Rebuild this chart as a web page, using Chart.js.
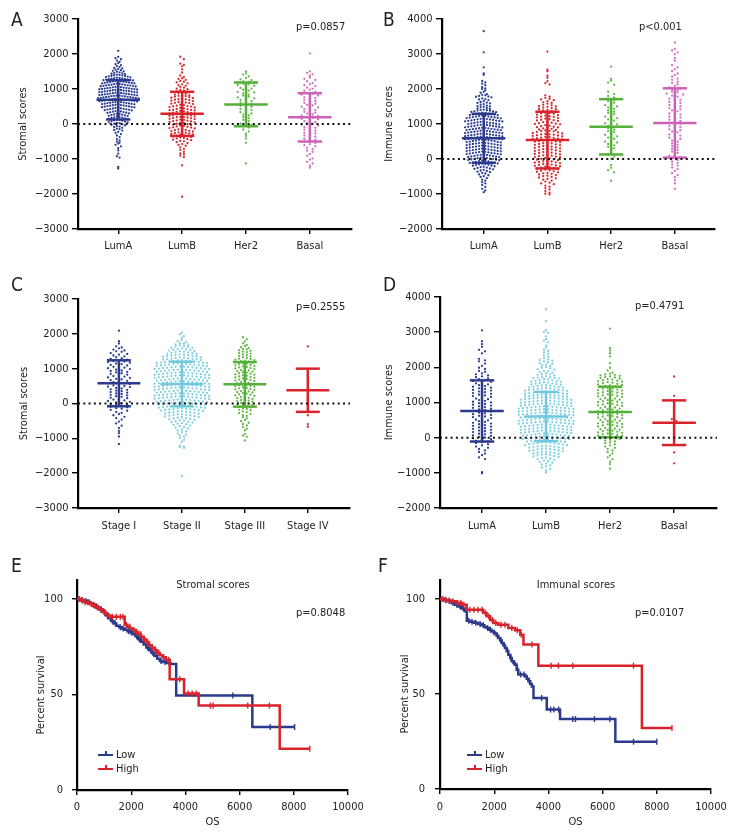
<!DOCTYPE html>
<html><head><meta charset="utf-8">
<script src="https://cdn.jsdelivr.net/npm/chart.js@4.4.1/dist/chart.umd.min.js"></script>
<style>
html,body{margin:0;padding:0;background:#fff;}
#fig{position:relative;width:744px;height:840px;overflow:hidden;color:#222;
 font-family:'Liberation Sans Narrow','DejaVu Sans Condensed','Roboto Condensed','Arial Narrow','Liberation Sans',sans-serif;}
.panel{position:absolute;width:372px;height:280px;}
.t{position:absolute;font-size:11px;line-height:1;white-space:nowrap;}
.rot{position:absolute;width:100px;height:12px;font-size:11px;line-height:12px;text-align:center;white-space:nowrap;transform:rotate(-90deg);transform-origin:50px 6px;}
.letter{position:absolute;font-size:19px;line-height:1;}
.leg{position:absolute;width:15px;height:2px;}
.tick{position:absolute;width:1.5px;height:5px;left:7px;top:-3px;}
</style></head><body>
<div id="fig">
 <div class="panel" style="left:0;top:0"><canvas id="cA"></canvas></div>
 <div class="panel" style="left:372px;top:0"><canvas id="cB"></canvas></div>
 <div class="panel" style="left:0;top:280px"><canvas id="cC"></canvas></div>
 <div class="panel" style="left:372px;top:280px"><canvas id="cD"></canvas></div>
 <div class="panel" style="left:0;top:560px"><canvas id="cE"></canvas></div>
 <div class="panel" style="left:372px;top:560px"><canvas id="cF"></canvas></div>

 <div class="letter" style="left:11px;top:10px">A</div>
 <div class="letter" style="left:383px;top:10px">B</div>
 <div class="letter" style="left:11px;top:275px">C</div>
 <div class="letter" style="left:383px;top:275px">D</div>
 <div class="letter" style="left:11px;top:556px">E</div>
 <div class="letter" style="left:378px;top:556px">F</div>

 <div class="t" style="left:296px;top:21px">p=0.0857</div>
 <div class="t" style="left:639px;top:21px">p&lt;0.001</div>
 <div class="t" style="left:296px;top:301px">p=0.2555</div>
 <div class="t" style="left:635px;top:300px">p=0.4791</div>
 <div class="t" style="left:296px;top:607px">p=0.8048</div>
 <div class="t" style="left:635px;top:607px">p=0.0107</div>
 <div class="t" style="left:213px;top:579px;transform:translateX(-50%)">Stromal scores</div>
 <div class="t" style="left:576px;top:579px;transform:translateX(-50%)">Immunal scores</div>
 <div class="rot" style="left:-9px;top:689px">Percent survival</div>
 <div class="rot" style="left:355px;top:688px">Percent survival</div>

 <div class="leg" style="left:98px;top:754px;background:#2b3a8c"><div class="tick" style="background:#2b3a8c"></div></div>
 <div class="t" style="left:116px;top:749px">Low</div>
 <div class="leg" style="left:98px;top:768px;background:#d9232a"><div class="tick" style="background:#d9232a"></div></div>
 <div class="t" style="left:116px;top:763px">High</div>
 <div class="leg" style="left:467px;top:754px;background:#2b3a8c"><div class="tick" style="background:#2b3a8c"></div></div>
 <div class="t" style="left:485px;top:749px">Low</div>
 <div class="leg" style="left:467px;top:768px;background:#d9232a"><div class="tick" style="background:#d9232a"></div></div>
 <div class="t" style="left:485px;top:763px">High</div>
</div>
<script>
// ---------------- categories ----------------
const subtypes = ['LumA','LumB','Her2','Basal'];
const stages = ['Stage I','Stage II','Stage III','Stage IV'];

// ---------------- Panel A: stromal scores by subtype ----------------
const stromalLumA = [2090,1920,1880,1850,1812,1776,1743,1708,1684,1652,1627,1603,1591,1568,1553,1537,1519,1502,1494,1477,1463,1448,1436,1424,1411,1403,
1396,1387,1379,1373,1361,1354,1344,1333,1324,1316,1307,1301,
1297,1291,1282,1276,1268,1259,1253,1244,1238,1229,1221,1216,1207,1202,
1198,1189,1185,1176,1172,1163,1158,1152,1144,1139,1131,1124,1118,1113,1105,1101,
1097,1092,1084,1079,1072,1068,1059,1053,1047,1042,1035,1029,1023,1018,1011,1006,1002,
998,993,986,981,975,971,964,957,953,948,942,937,931,924,920,913,909,904,
899,893,886,882,875,869,864,858,853,847,842,836,831,825,819,814,808,803,
798,794,787,781,776,772,765,759,754,749,743,737,732,726,721,715,710,704,
697,692,684,679,672,667,660,655,648,644,636,631,624,620,612,607,601,
597,589,582,577,569,563,555,550,542,537,529,524,516,511,503,
496,488,479,473,464,458,449,443,434,427,419,413,404,
395,387,377,369,358,351,340,333,322,316,303,
294,286,274,267,254,247,233,226,214,206,
192,184,171,162,149,140,127,118,105,
94,79,72,56,48,31,24,8,
-9,-23,-41,-55,-73,-86,-108,-131,-149,-172,-188,
-224,-251,-288,-328,-374,-432,-471,-505,-534,-559,-596,-638,-692,-755,-848,-921,-958,-1229,-1271];
const stromalLumB = [1922,1851,1724,1688,1647,1563,1472,1386,1342,1307,1288,1263,1232,1207,1188,1162,1134,1109,1091,1063,1038,1012,
996,973,951,928,906,893,876,862,841,827,813,804,797,782,766,753,738,722,709,701,
696,684,668,656,640,628,613,604,597,581,570,552,542,525,513,503,
498,485,472,458,444,430,419,405,401,396,387,371,362,348,339,325,316,305,301,
298,288,275,265,252,242,229,219,206,202,196,186,173,163,149,140,126,117,103,
97,83,72,58,47,33,22,7,
-5,-20,-30,-45,-56,-70,-81,-95,-102,-116,-127,-142,-153,-168,-179,-194,
-201,-214,-224,-237,-247,-260,-270,-284,-294,-305,-317,-332,-344,-359,-371,-387,-398,
-411,-427,-447,-463,-483,-496,-519,-544,-573,-597,-622,-667,-713,-739,-794,-843,-864,-906,-947,-1182,-2078];
const stromalHer2 = [1502,1447,1412,1358,1314,1276,1253,1218,1203,1187,1172,1148,1133,1108,1092,1061,1028,1012,979,952,918,903,871,838,812,783,757,732,698,683,652,618,603,577,552,518,493,457,433,398,372,338,302,268,243,197,163,118,82,38,12,-23,-58,-103,-157,-213,-278,-342,-417,-538,-1128];
const stromalBasal = [2018,1503,1462,1418,1381,1328,1292,1258,1223,1168,1142,1107,1083,1038,1012,978,953,918,892,868,843,817,792,758,742,708,683,657,632,598,582,548,532,497,473,448,422,398,372,348,323,297,272,248,222,198,182,147,133,108,82,57,32,8,-18,-42,-57,-92,-108,-143,-158,-192,-218,-253,-268,-303,-328,-362,-388,-422,-448,-483,-508,-542,-568,-603,-638,-682,-718,-762,-798,-862,-908,-983,-1018,-1083,-1128,-1192,-1248];
const stromalSubtypeMean = [690, 290, 560, 190];
const stromalSubtypeSD = [560, 630, 625, 690];

// ---------------- Panel B: immune scores by subtype ----------------
const immuneLumA = [3652,3048,2618,2443,2407,2232,2188,2153,2108,2052,2017,1998,1963,1918,1893,
1852,1834,1818,1803,1788,1779,1762,1731,1713,1702,1683,1652,1628,1613,1601,
1592,1568,1553,1527,1512,1503,1494,1482,1458,1443,1428,1412,1401,
1396,1384,1377,1363,1357,1344,1336,1323,1317,1304,
1298,1289,1283,1274,1268,1257,1251,1242,1233,1227,1217,1211,1202,
1198,1189,1184,1175,1170,1161,1156,1147,1142,1133,1128,1119,1114,1105,
1099,1091,1086,1077,1072,1063,1058,1049,1044,1035,1030,1021,1016,1007,
998,990,985,976,971,962,957,948,943,934,929,920,915,906,
900,892,888,879,875,866,862,853,849,840,836,827,823,814,809,
801,792,788,779,775,766,762,753,749,740,736,727,723,714,709,
700,692,688,679,675,666,662,653,649,640,636,627,623,614,609,
601,592,588,579,575,566,562,553,549,540,536,527,523,514,509,
498,489,484,475,470,461,456,447,442,433,428,419,414,405,
398,389,384,375,370,361,356,347,342,333,328,319,314,305,
297,288,283,274,269,260,255,246,241,232,227,218,213,204,
198,189,184,175,170,161,156,147,142,133,128,119,114,105,
97,87,82,72,67,57,52,42,37,27,22,12,5,
-3,-13,-19,-30,-36,-47,-53,-63,-70,-80,-87,-97,
-105,-113,-125,-133,-145,-153,-165,-173,-185,-193,
-207,-221,-232,-246,-257,-271,-282,-296,
-309,-328,-342,-361,-376,-394,
-414,-441,-464,-491,-512,-548,-591,-618,-662,-698,-742,-797,-852,-897,-948];
const immuneLumB = [3068,2552,2508,2381,2318,2222,2168,2131,
1818,1782,1748,1721,1702,1679,1652,1618,1603,1582,1548,1533,1508,1502,
1491,1468,1452,1428,1421,1403,1392,1368,1362,1338,1322,1308,1301,
1292,1268,1252,1238,1222,1208,1201,1192,1168,1152,1138,1122,1108,1101,
1092,1068,1052,1038,1022,1008,1001,992,968,952,938,922,908,901,
891,874,862,843,832,814,806,801,791,774,762,743,732,714,706,702,
696,682,672,658,648,634,624,610,603,598,584,574,560,550,536,526,512,505,
496,481,470,455,444,429,418,406,397,382,371,356,345,330,319,306,
297,282,271,256,245,230,219,206,197,182,171,156,145,130,119,106,
96,81,70,55,44,29,18,5,
-7,-18,-33,-44,-59,-70,-85,-96,-106,-117,-132,-143,-158,-169,-184,-195,
-207,-219,-235,-247,-263,-275,-291,-304,-321,-334,-351,-364,-381,-394,
-409,-424,-443,-458,-477,-492,-511,-529,-551,-569,-591,-616,-644,-676,-699,-721,-759,-791,-831,-869,-912,-958,-991,-1012];
const immuneHer2 = [2641,2292,2238,2183,2118,1922,1851,1803,1758,1722,1688,1652,1608,1583,1538,1502,1468,1433,1388,1352,1318,1283,1238,1212,1168,1133,1098,1062,1018,992,948,912,878,842,798,772,728,692,648,612,578,543,498,472,428,392,348,302,238,182,128,62,8,-178,-252,-318,-382,-621];
const immuneBasal = [3328,3148,3103,3047,2998,2882,2808,2683,2618,2562,2508,2443,2398,2352,2298,2262,2208,2173,2128,2092,2048,2022,1988,1963,1928,1902,1868,1843,1808,1782,1748,1723,1688,1662,1628,1603,1568,1542,1508,1483,1448,1422,1388,1362,1328,1303,1268,1242,1208,1183,1148,1122,1088,1063,1028,1003,968,942,908,883,848,822,788,763,728,703,668,642,608,572,528,493,448,413,368,332,288,252,208,173,128,93,48,12,-28,-72,-108,-152,-188,-243,-288,-342,-398,-462,-518,-602,-698,-852];
const immuneSubtypeMean = [590, 540, 920, 1030];
const immuneSubtypeSD = [700, 810, 790, 990];

// ---------------- Panel C: stromal scores by stage ----------------
const stromalStageI = [2092,1788,1723,1642,1608,1583,1548,1522,1498,1483,1448,1422,1403,1378,1352,1328,1302,1283,1258,1242,1218,1203,1188,1172,1148,1133,1108,1092,1068,1052,1028,1012,988,972,948,933,908,892,868,853,828,812,788,773,748,733,708,692,668,652,628,613,593,582,558,543,518,502,483,472,448,433,408,392,368,353,328,312,288,273,248,232,208,193,168,152,128,113,88,72,48,33,8,-12,-28,-53,-68,-92,-108,-133,-148,-182,-208,-243,-268,-302,-338,-383,-418,-462,-518,-572,-638,-702,-788,-852,-948,-1162];
const stromalStageII = [2032,1988,1932,1893,1828,1792,1763,1738,1722,1698,1693,1668,1652,1638,1622,1603,
1596,1582,1568,1557,1543,1532,1518,1506,
1497,1489,1476,1467,1454,1446,1432,1423,1411,1403,
1398,1388,1381,1370,1363,1352,1345,1334,1327,1316,1308,
1297,1287,1282,1272,1267,1257,1252,1242,1237,1227,1222,1212,1206,
1198,1189,1185,1176,1172,1163,1159,1150,1146,1137,1133,1124,1120,1111,1104,
1099,1091,1087,1079,1075,1066,1062,1054,1050,1042,1037,1029,1025,1017,1013,1004,
999,991,986,978,975,967,962,953,950,941,937,930,925,916,913,905,
898,892,887,880,874,866,863,855,849,843,837,828,824,818,812,806,
799,790,787,779,774,767,761,754,751,742,738,729,726,717,712,704,
698,691,686,680,675,666,661,655,650,641,637,630,624,617,612,605,
599,592,587,578,575,567,562,553,549,543,536,529,525,518,513,503,
499,490,486,479,474,466,463,455,450,442,436,428,425,416,413,405,
398,391,388,379,376,366,361,354,349,341,337,330,326,317,312,304,
299,290,287,280,274,267,263,253,250,243,238,229,224,218,212,204,
199,192,186,178,175,165,162,155,150,141,138,130,124,116,113,105,
98,92,85,79,71,65,58,52,44,38,31,25,18,11,4,
-3,-11,-17,-25,-31,-39,-46,-53,-60,-67,-74,-81,-88,-95,
-104,-111,-119,-126,-134,-141,-149,-156,-164,-171,-179,-186,-194,
-203,-212,-221,-230,-239,-248,-257,-266,-275,-284,-293,
-304,-313,-324,-333,-344,-353,-364,-373,-384,-395,
-406,-418,-431,-443,-456,-468,-481,-494,
-508,-522,-537,-551,-566,-580,-594,
-612,-633,-651,-672,-694,-718,-746,-772,-798,-824,-862,-896,-918,-952,-988,-1042,-1098,-1208,-1236,-1252,-1274,-2081];
const stromalStageIII = [1902,1848,1782,1728,1683,1652,1618,1592,1568,1553,1528,1512,1488,1473,1448,1432,1408,1393,1368,1352,1328,1313,1288,1277,1258,1247,1228,1217,1198,1187,1168,1157,1138,1127,1108,1097,1078,1067,1048,1037,1018,1007,988,977,958,947,928,917,898,887,868,857,838,827,808,797,778,767,748,737,718,707,688,677,658,647,628,617,598,587,568,557,538,527,508,497,478,467,448,437,418,407,388,377,358,347,328,317,298,284,264,252,231,218,198,184,164,152,131,118,98,84,64,52,31,18,-2,-22,-38,-62,-78,-102,-118,-142,-158,-182,-198,-228,-248,-277,-298,-332,-358,-392,-428,-472,-508,-552,-588,-632,-678,-722,-768,-878,-922,-958,-1062];
const stromalStageIV = [1638,982,828,772,448,168,112,-338,-592,-668];
const stromalStageMean = [580, 560, 550, 380];
const stromalStageSD = [660, 640, 640, 620];

// ---------------- Panel D: immune scores (labels as printed) ----------------
const immuneD_LumA = [3052,2742,2658,2582,2498,2452,2398,2242,2198,2172,2108,2042,1988,1952,1898,1872,1828,1802,1768,1742,1718,1688,1662,1638,1612,1588,1562,1542,1518,1492,1468,1448,1422,1402,1382,1358,1338,1312,1292,1268,1248,1222,1202,1182,1158,1138,1112,1092,1068,1048,1022,1002,982,958,938,912,892,868,848,822,802,782,758,738,712,692,668,648,622,602,582,558,538,512,492,468,448,422,402,382,358,338,312,292,268,248,222,202,182,158,138,112,92,68,48,22,2,-18,-42,-62,-88,-108,-132,-158,-188,-218,-252,-288,-322,-362,-408,-452,-498,-562,-608,-982,-1012];
const immuneD_LumB = [3652,3312,3062,3012,2978,2882,2802,2758,2712,2618,2562,2502,2468,2422,2382,2338,2302,2262,2228,2212,2188,2172,2148,2122,2102,2078,2058,2032,2012,1988,1972,1948,1932,1908,1888,1872,1848,1832,1812,1802,1788,1772,1748,1732,1718,1708,1702,
1692,1681,1668,1656,1642,1631,1617,1604,
1596,1587,1576,1566,1555,1546,1534,1525,1513,1504,
1497,1488,1479,1469,1461,1451,1442,1432,1424,1413,1404,
1398,1389,1381,1373,1364,1356,1347,1339,1331,1322,1314,1305,
1297,1290,1282,1275,1267,1260,1252,1245,1237,1229,1222,1214,1206,
1199,1192,1185,1178,1171,1164,1157,1149,1142,1135,1128,1121,1113,1106,
1098,1092,1085,1079,1072,1066,1059,1053,1046,1040,1033,1027,1020,1014,1006,
997,992,986,980,973,968,961,955,949,943,936,931,924,918,911,905,
896,891,885,879,874,867,862,856,848,844,837,830,826,817,812,806,
798,793,787,781,772,768,760,756,749,742,737,730,723,719,710,704,
697,692,686,680,673,668,661,655,649,643,636,631,624,618,611,605,
599,590,585,579,574,566,563,554,548,544,535,529,526,519,510,506,
497,492,486,480,473,468,461,455,449,443,436,431,424,418,411,405,
396,391,387,378,374,369,360,356,348,343,338,332,325,316,313,304,
296,290,283,277,270,263,257,250,243,237,230,223,217,210,203,
196,190,183,177,170,163,157,150,143,137,130,123,117,110,103,
96,89,82,75,68,61,54,47,40,33,26,19,12,5,
-4,-12,-19,-27,-35,-42,-50,-58,-65,-73,-81,-88,-96,
-104,-112,-121,-129,-137,-146,-154,-162,-171,-179,-187,-196,
-205,-214,-223,-232,-241,-250,-259,-268,-277,-286,-295,
-305,-315,-325,-335,-345,-355,-365,-375,-385,-395,
-406,-417,-428,-439,-450,-461,-472,-483,-494,
-507,-521,-535,-550,-564,-578,-592,-610,-630,-650,-670,-690,-712,-738,-762,-788,-815,-850,-885,-930,-990];
const immuneD_Her2 = [3098,2542,2478,2402,2312,2118,1988,1912,1852,1822,1798,1788,1772,1758,1742,1728,1712,1698,1682,1668,1652,1638,1622,1608,1592,1578,1562,1548,1532,1518,1502,1488,1472,1458,1442,1428,1412,1398,1382,1368,1352,1338,1322,1308,1292,1278,1262,1248,1232,1218,1202,1188,1172,1158,1142,1128,1112,1098,1082,1068,1052,1038,1022,1008,992,978,962,948,932,918,902,888,872,858,842,828,812,798,782,768,752,738,722,708,692,678,662,648,632,618,602,588,572,558,542,528,512,498,482,468,452,438,422,408,392,378,362,348,332,318,302,288,272,258,242,228,212,198,182,168,152,138,122,108,92,78,62,48,32,18,2,-18,-38,-62,-82,-108,-132,-158,-188,-218,-252,-288,-322,-362,-408,-452,-508,-558,-612,-682,-752,-882];
const immuneD_Basal = [1740,1190,1060,530,480,130,-50,-420,-730];
const immuneDMean = [760, 600, 730, 425];
const immuneDSD = [870, 700, 720, 635];

// ---------------- Panels E/F: Kaplan-Meier (time in days, survival %) ----------------
const stromalLowTime = [0,150,260,370,470,560,660,760,850,950,1050,1150,1250,1350,1450,1560,1660,1760,1860,1960,2060,2160,2260,2360,2460,2560,2660,2760,2860,2960,3060,3160,3300,3450,3660,6470,8030];
const stromalLowSurv = [100,99.5,99,98.4,97.6,97,96.2,95.4,94.5,93.2,91.6,90,88.6,87.2,86,85.2,84.6,84,83.2,82.6,81.6,80.5,79,77.6,76.2,74.7,73.2,71.7,70.2,68.8,67.6,67,66.5,66,49.5,33,33];
const stromalHighTime = [0,140,280,420,560,700,820,940,1040,1140,1240,1760,1860,1960,2060,2160,2260,2360,2460,2560,2660,2760,2860,2960,3060,3160,3280,3420,3950,4490,7480,8590];
const stromalHighSurv = [100,99.2,98.4,97.6,96.6,95.6,94.6,93.4,92.2,91.3,90.7,86.5,85.5,84.6,83.8,82.8,81.6,80.3,78.8,77.2,75.8,74.6,73.2,71.8,70.6,69.5,68.2,58,50.6,44.2,21.6,21.6];
const stromalLowCensor = [90,200,330,450,600,720,880,1000,1120,1300,1420,1600,1700,1900,2000,2200,2300,2450,2600,2720,2800,2950,3100,3250,3400,5750,7130,8030];
const stromalHighCensor = [80,190,300,400,520,650,760,900,1020,1180,1300,1450,1600,1700,1820,1950,2100,2200,2350,2500,2620,2780,2900,3020,3200,3380,3790,4100,4250,4400,4920,5020,6300,7100,8590];

const immuneLowTime = [0,150,300,430,560,680,800,920,990,1100,1250,1400,1540,1640,1720,1810,1900,1970,2030,2090,2150,2220,2280,2340,2400,2460,2520,2590,2650,2710,2770,2830,2890,3140,3200,3260,3330,3390,3450,3940,4430,6470,8000];
const immuneLowSurv = [100,99.4,98.8,97.9,97,96,95,93.6,88.5,88,87.5,86.8,86.2,85.3,84.7,83.8,83,82.4,81.8,80.6,79.5,78.2,76.8,75.5,74.2,72.5,70.7,69,67.2,66.3,65.4,62.8,60.2,59.3,58,56.7,55.3,54,47.9,41.8,36.8,24.9,24.9];
const immuneHighTime = [0,140,280,430,600,800,985,1600,1720,1850,1970,2150,2520,2770,2960,3080,3630,7450,8560];
const immuneHighSurv = [100,99.6,99.2,98.8,98,97,94.4,92.6,90.9,89,87.4,86.5,84.7,83.5,81.2,76,64.9,32.1,32.1];
const immuneLowCensor = [100,220,350,480,620,740,860,1060,1180,1320,1480,1600,1760,1860,2000,2120,2250,2380,2500,2620,2740,2860,2980,3100,3300,3750,4080,4200,4380,4900,5000,5700,6270,7140,8000];
const immuneHighCensor = [90,200,340,480,650,760,880,1100,1250,1400,1550,1680,1800,1930,2060,2250,2400,2650,2850,3000,3390,4100,4370,4900,7140,8560];

const kmXTicks = [0,2000,4000,6000,8000,10000];
const kmYTicks = [0,50,100];

// ---------------- style ----------------
const FONT = "'Liberation Sans Narrow','DejaVu Sans Condensed','Roboto Condensed','Arial Narrow','Liberation Sans',sans-serif";
Chart.defaults.font.family = FONT;
Chart.defaults.font.size = 11;
Chart.defaults.color = '#222';
const NAVY='#2c3e91', RED='#d42a2e', GREEN='#62b846', PINK='#cf6fbe', CYAN='#7fcfe0';
const NAVY_B='#2b3a8c', RED_B='#d9232a', GREEN_B='#55b03a', PINK_B='#cc62b8', CYAN_B='#72c8dc';
const ROW_H = 3.0, PX_PER_UNIT = 210/6000;
const MEAN_HW = 0.34, CAP_HW = 0.19;
const minus = v => (v < 0 ? '\u2212' + Math.abs(v) : String(v));

function swarm(values, idx, dx, catPx){
  const rows = {};
  values.forEach(v => { const r = Math.round(v*PX_PER_UNIT/ROW_H); (rows[r] = rows[r] || []).push(v); });
  const pts = [];
  Object.values(rows).forEach(list => {
    list.sort((a,b)=>b-a);
    const k = list.length, offs = [];
    for (let j=0;j<k;j++) offs.push((j-(k-1)/2)*dx);
    offs.sort((a,b)=>(Math.abs(a)-Math.abs(b)) || (a-b));
    list.forEach((v,j)=>pts.push({x: idx + offs[j]/catPx, y: v}));
  });
  return pts;
}
function survAt(times, survs, t){ let s = survs[0]; for (let i=0;i<times.length;i++) if (times[i] <= t) s = survs[i]; return s; }

const axisGrid = {display:true, drawOnChartArea:false, drawTicks:true, tickLength:6, color:'#000', tickColor:'#000', lineWidth:1.4};
const axisBorder = {display:true, color:'#000', width:2.2};

function dotPanel(id, o){
  const ds = [];
  ds.push({data:[{x:o.xMin,y:0},{x:o.xMax,y:0}], showLine:true, borderColor:'#111', borderWidth:2, borderDash:[2,3.3], pointRadius:0, clip:false});
  o.groups.forEach((g,i)=>{
    const m=o.means[i], s=o.sds[i], c=o.barColors[i];
    const seg = pts => ds.push({data:pts, showLine:true, borderColor:c, borderWidth:2.5, pointRadius:0, clip:false});
    seg([{x:i,y:m-s},{x:i,y:m+s}]);
    seg([{x:i-MEAN_HW,y:m},{x:i+MEAN_HW,y:m}]);
    seg([{x:i-CAP_HW,y:m+s},{x:i+CAP_HW,y:m+s}]);
    seg([{x:i-CAP_HW,y:m-s},{x:i+CAP_HW,y:m-s}]);
  });
  o.groups.forEach((g,i)=>{
    ds.push({data:swarm(g,i,o.spread[i],o.catPx), showLine:false, pointRadius:1.15, pointBackgroundColor:o.colors[i], pointBorderWidth:0});
  });
  new Chart(document.getElementById(id), {
    type:'scatter', data:{datasets:ds},
    options:{
      responsive:true, maintainAspectRatio:false, animation:false, devicePixelRatio:1, events:[],
      layout:{padding:{left:0, top:o.padTop, right:o.padRight, bottom:0}},
      plugins:{legend:{display:false}, tooltip:{enabled:false}},
      scales:{
        x:{type:'linear', min:o.xMin, max:o.xMax,
           afterBuildTicks: s => { s.ticks = o.cats.map((c,i)=>({value:i})); },
           afterFit: s => { s.height = o.xAxisH; },
           ticks:{callback: v => o.cats[v], padding:o.xTickPad, autoSkip:false, maxRotation:0},
           grid:Object.assign({}, axisGrid, {tickLength:5}), border:axisBorder},
        y:{type:'linear', min:o.yMin, max:o.yMax,
           ticks:{stepSize:1000, callback:minus, padding:3.5},
           afterFit: s => { s.width = o.yAxisW; },
           title:{display:true, text:o.yTitle, padding:{top:o.yTitlePad, bottom:0}},
           grid:axisGrid, border:axisBorder}
      }
    }
  });
}

function kmPanel(id, o){
  const line = (t,s,c) => ({data:t.map((x,i)=>({x, y:s[i]})), showLine:true, stepped:'before', borderColor:c, borderWidth:2.5, pointRadius:0, clip:false});
  const cens = (ct,t,s,c) => ({data:ct.map(x=>({x, y:survAt(t,s,x)})), showLine:false, pointStyle:'line', pointRotation:90, pointRadius:3, pointBorderColor:c, pointBackgroundColor:c, pointBorderWidth:1.4, clip:false});
  new Chart(document.getElementById(id), {
    type:'scatter',
    data:{datasets:[
      line(o.highT,o.highS,RED_B), cens(o.highC,o.highT,o.highS,RED_B),
      line(o.lowT,o.lowS,NAVY_B), cens(o.lowC,o.lowT,o.lowS,NAVY_B)
    ]},
    options:{
      responsive:true, maintainAspectRatio:false, animation:false, devicePixelRatio:1, events:[],
      layout:{padding:{left:0, top:o.padTop, right:o.padRight, bottom:0}},
      plugins:{legend:{display:false}, tooltip:{enabled:false}},
      scales:{
        x:{type:'linear', min:0, max:10000,
           afterBuildTicks: s => { s.ticks = kmXTicks.map(v=>({value:v})); },
           afterFit: s => { s.height = o.xAxisH; },
           ticks:{callback: v => String(v), padding:o.xTickPad, autoSkip:false, maxRotation:0},
           title:{display:true, text:'OS', padding:{top:0, bottom:11}},
           grid:Object.assign({}, axisGrid, {tickLength:5}), border:axisBorder},
        y:{type:'linear', min:0, max:110,
           afterBuildTicks: s => { s.ticks = kmYTicks.map(v=>({value:v})); },
           afterFit: s => { s.width = o.yAxisW; },
           ticks:{callback: v => String(v), padding:o.yTickPad},
           grid:Object.assign({}, axisGrid, {tickLength:5}), border:axisBorder}
      }
    }
  });
}

dotPanel('cA', {cats:subtypes, groups:[stromalLumA,stromalLumB,stromalHer2,stromalBasal],
  means:stromalSubtypeMean, sds:stromalSubtypeSD, colors:[NAVY,RED,GREEN,PINK], barColors:[NAVY_B,RED_B,GREEN_B,PINK_B],
  spread:[2.7,3.6,5.5,5.5], catPx:64, xMin:-0.63, xMax:3.66, yMin:-3000, yMax:3000, yTitle:'Stromal scores',
  yAxisW:78, padTop:19, padRight:20, xAxisH:51, xTickPad:6, yTitlePad:17});
dotPanel('cB', {cats:subtypes, groups:[immuneLumA,immuneLumB,immuneHer2,immuneBasal],
  means:immuneSubtypeMean, sds:immuneSubtypeSD, colors:[NAVY,RED,GREEN,PINK], barColors:[NAVY_B,RED_B,GREEN_B,PINK_B],
  spread:[3.1,4.2,6,5.5], catPx:63.7, xMin:-0.655, xMax:3.63, yMin:-2000, yMax:4000, yTitle:'Immune scores',
  yAxisW:70, padTop:19, padRight:29, xAxisH:51, xTickPad:6, yTitlePad:11});
dotPanel('cC', {cats:stages, groups:[stromalStageI,stromalStageII,stromalStageIII,stromalStageIV],
  means:stromalStageMean, sds:stromalStageSD, colors:[NAVY,CYAN,GREEN,RED], barColors:[NAVY_B,CYAN_B,GREEN_B,RED_B],
  spread:[5.5,4.2,3.8,4.5], catPx:63, xMin:-0.65, xMax:3.67, yMin:-3000, yMax:3000, yTitle:'Stromal scores',
  yAxisW:78, padTop:19, padRight:22, xAxisH:52, xTickPad:7, yTitlePad:18});
dotPanel('cD', {cats:subtypes, groups:[immuneD_LumA,immuneD_LumB,immuneD_Her2,immuneD_Basal],
  means:immuneDMean, sds:immuneDSD, colors:[NAVY,CYAN,GREEN,RED], barColors:[NAVY_B,CYAN_B,GREEN_B,RED_B],
  spread:[6,4.2,4.8,4.5], catPx:64, xMin:-0.656, xMax:3.67, yMin:-2000, yMax:4000, yTitle:'Immune scores',
  yAxisW:68, padTop:17, padRight:27, xAxisH:52, xTickPad:7, yTitlePad:11});
kmPanel('cE', {lowT:stromalLowTime, lowS:stromalLowSurv, highT:stromalHighTime, highS:stromalHighSurv,
  lowC:stromalLowCensor, highC:stromalHighCensor, yAxisW:77, padTop:20, padRight:24, xAxisH:50, xTickPad:6, yTickPad:9});
kmPanel('cF', {lowT:immuneLowTime, lowS:immuneLowSurv, highT:immuneHighTime, highS:immuneHighSurv,
  lowC:immuneLowCensor, highC:immuneHighCensor, yAxisW:68, padTop:20, padRight:33, xAxisH:51, xTickPad:7, yTickPad:10});
</script>
</body></html>
